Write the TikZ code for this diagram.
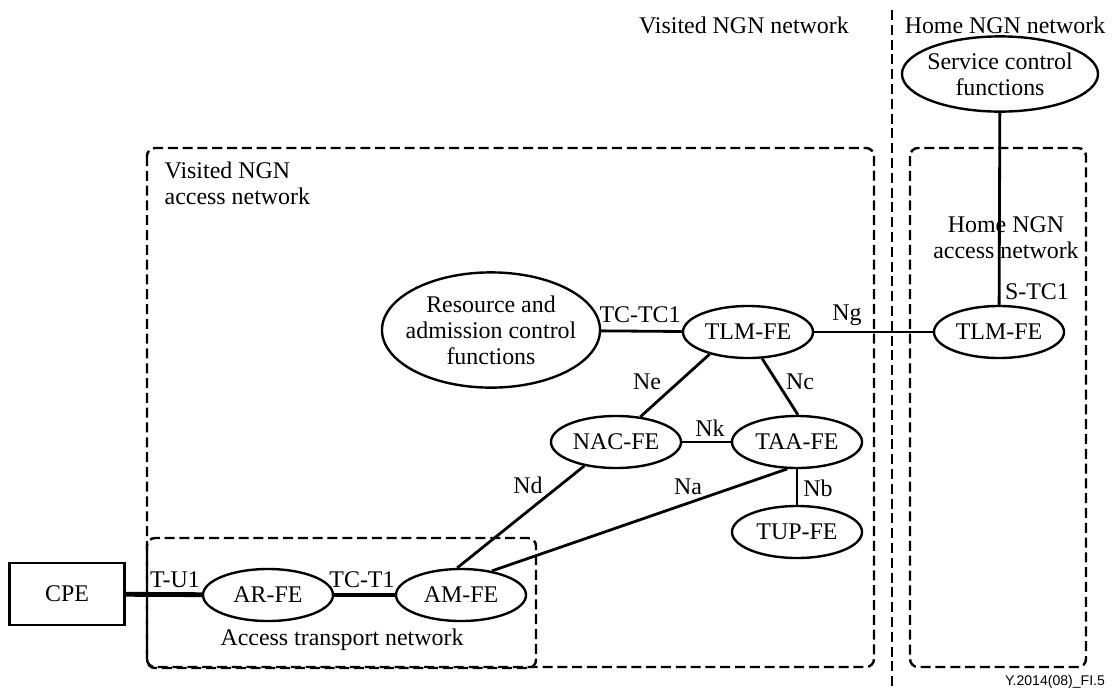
\documentclass[tikz,border=0pt]{standalone}
\usepackage{fontspec}
\setmainfont{Liberation Serif}
\newfontfamily\figfont{Liberation Sans}
\usepackage{tikz}
\usetikzlibrary{shapes,arrows,positioning}

\begin{document}
\begin{tikzpicture}[
    x=0.025cm,
    y=-0.025cm,
    font=\fontsize{17}{18.5}\selectfont,
    fe/.style={draw, ellipse, line width=0.6mm, inner sep=0pt, minimum width=3.25cm, minimum height=1.3cm},
    link/.style={line width=0.7mm},
    thicklink/.style={line width=1.2mm},
    netbox/.style={line width=0.6mm, rounded corners=0.2cm, dash pattern=on 2.5mm off 1.2mm},
    lbl/.style={inner sep=1pt}
]
                \useasboundingbox (0,0) rectangle (1112,693);

                % network domains
                \draw[
                    netbox
                    ] (147,148) rectangle (874,667);

                \draw[
                    netbox
                    ] (910,148) rectangle (1086,667);

                \draw[
                    netbox
                    ] (147,538) rectangle (536,668);

                \draw[
                    line width=0.6mm,
                    dash pattern=on 2.5mm off 1.2mm
                    ] (892,10) to (892,690);

                \node (visited) at (744,25) {Visited NGN network};
                \node (home) at (1005,25) {Home NGN network};
                \node[anchor=west, align=left, lbl] (visitedacc) at (163,183) {Visited NGN\\access network};
                \node[align=center, lbl] (homeacc) at (1006,238) {Home NGN\\access network};
                \node (transport) at (342,640) {Access transport network};

                % functional entities
                \node[fe, inner xsep=-4pt, minimum width=4.9cm, minimum height=1.88cm, align=center] (scf) at (1000,74) {Service control\\functions};
                \node[fe, inner xsep=-7pt, minimum width=5.45cm, minimum height=2.88cm, align=center] (rac) at (491,330) {Resource and\\admission control\\functions};
                \node[fe] (tlmv) at (748,332) {TLM-FE};
                \node[fe] (tlmh) at (999,332) {TLM-FE};
                \node[fe] (nacfe) at (616,442) {NAC-FE};
                \node[fe] (taafe) at (797,442) {TAA-FE};
                \node[fe] (tupfe) at (797,532) {TUP-FE};
                \node[fe] (arfe) at (268,595) {AR-FE};
                \node[fe] (amfe) at (461,595) {AM-FE};
                \node[
                    draw,
                    line width=0.6mm,
                    minimum width=2.875cm,
                    minimum height=1.55cm
                    ] (cpe) at (67,594) {CPE};

                % reference points
                \draw[link] (scf) to (tlmh);
                \draw[link] (rac) to (tlmv);
                \draw[link] (tlmv) to (tlmh);
                \draw[link] (tlmv.210) to (nacfe.46);
                \draw[link] (tlmv.-62) to (taafe.88);
                \draw[link] (nacfe) to (taafe);
                \draw[link] (taafe) to (tupfe);
                \draw[link] (nacfe.217) to (amfe.98);
                \draw[link] (taafe.250) to (amfe.38);
                \draw[thicklink] (cpe) to (arfe);
                \draw[thicklink] (arfe) to (amfe);

                \node[lbl] (stc1) at (1037,292) {S-TC1};
                \node[lbl] (tctc1) at (640,315) {TC-TC1};
                \node[lbl] (ng) at (847,315) {Ng};
                \node[lbl] (ne) at (647,382) {Ne};
                \node[lbl] (nc) at (800,382) {Nc};
                \node[lbl] (nk) at (710,428) {Nk};
                \node[lbl] (nd) at (528,485) {Nd};
                \node[lbl] (na) at (688,487) {Na};
                \node[lbl] (nb) at (818,488) {Nb};
                \node[lbl] (tu1) at (175,580) {T-U1};
                \node[lbl] (tct1) at (362,580) {TC-T1};

                \node[font=\figfont\fontsize{10}{12}\selectfont] (figid) at (1055,682) {Y.2014(08)\_FI.5};

            \end{tikzpicture}
\end{document}
